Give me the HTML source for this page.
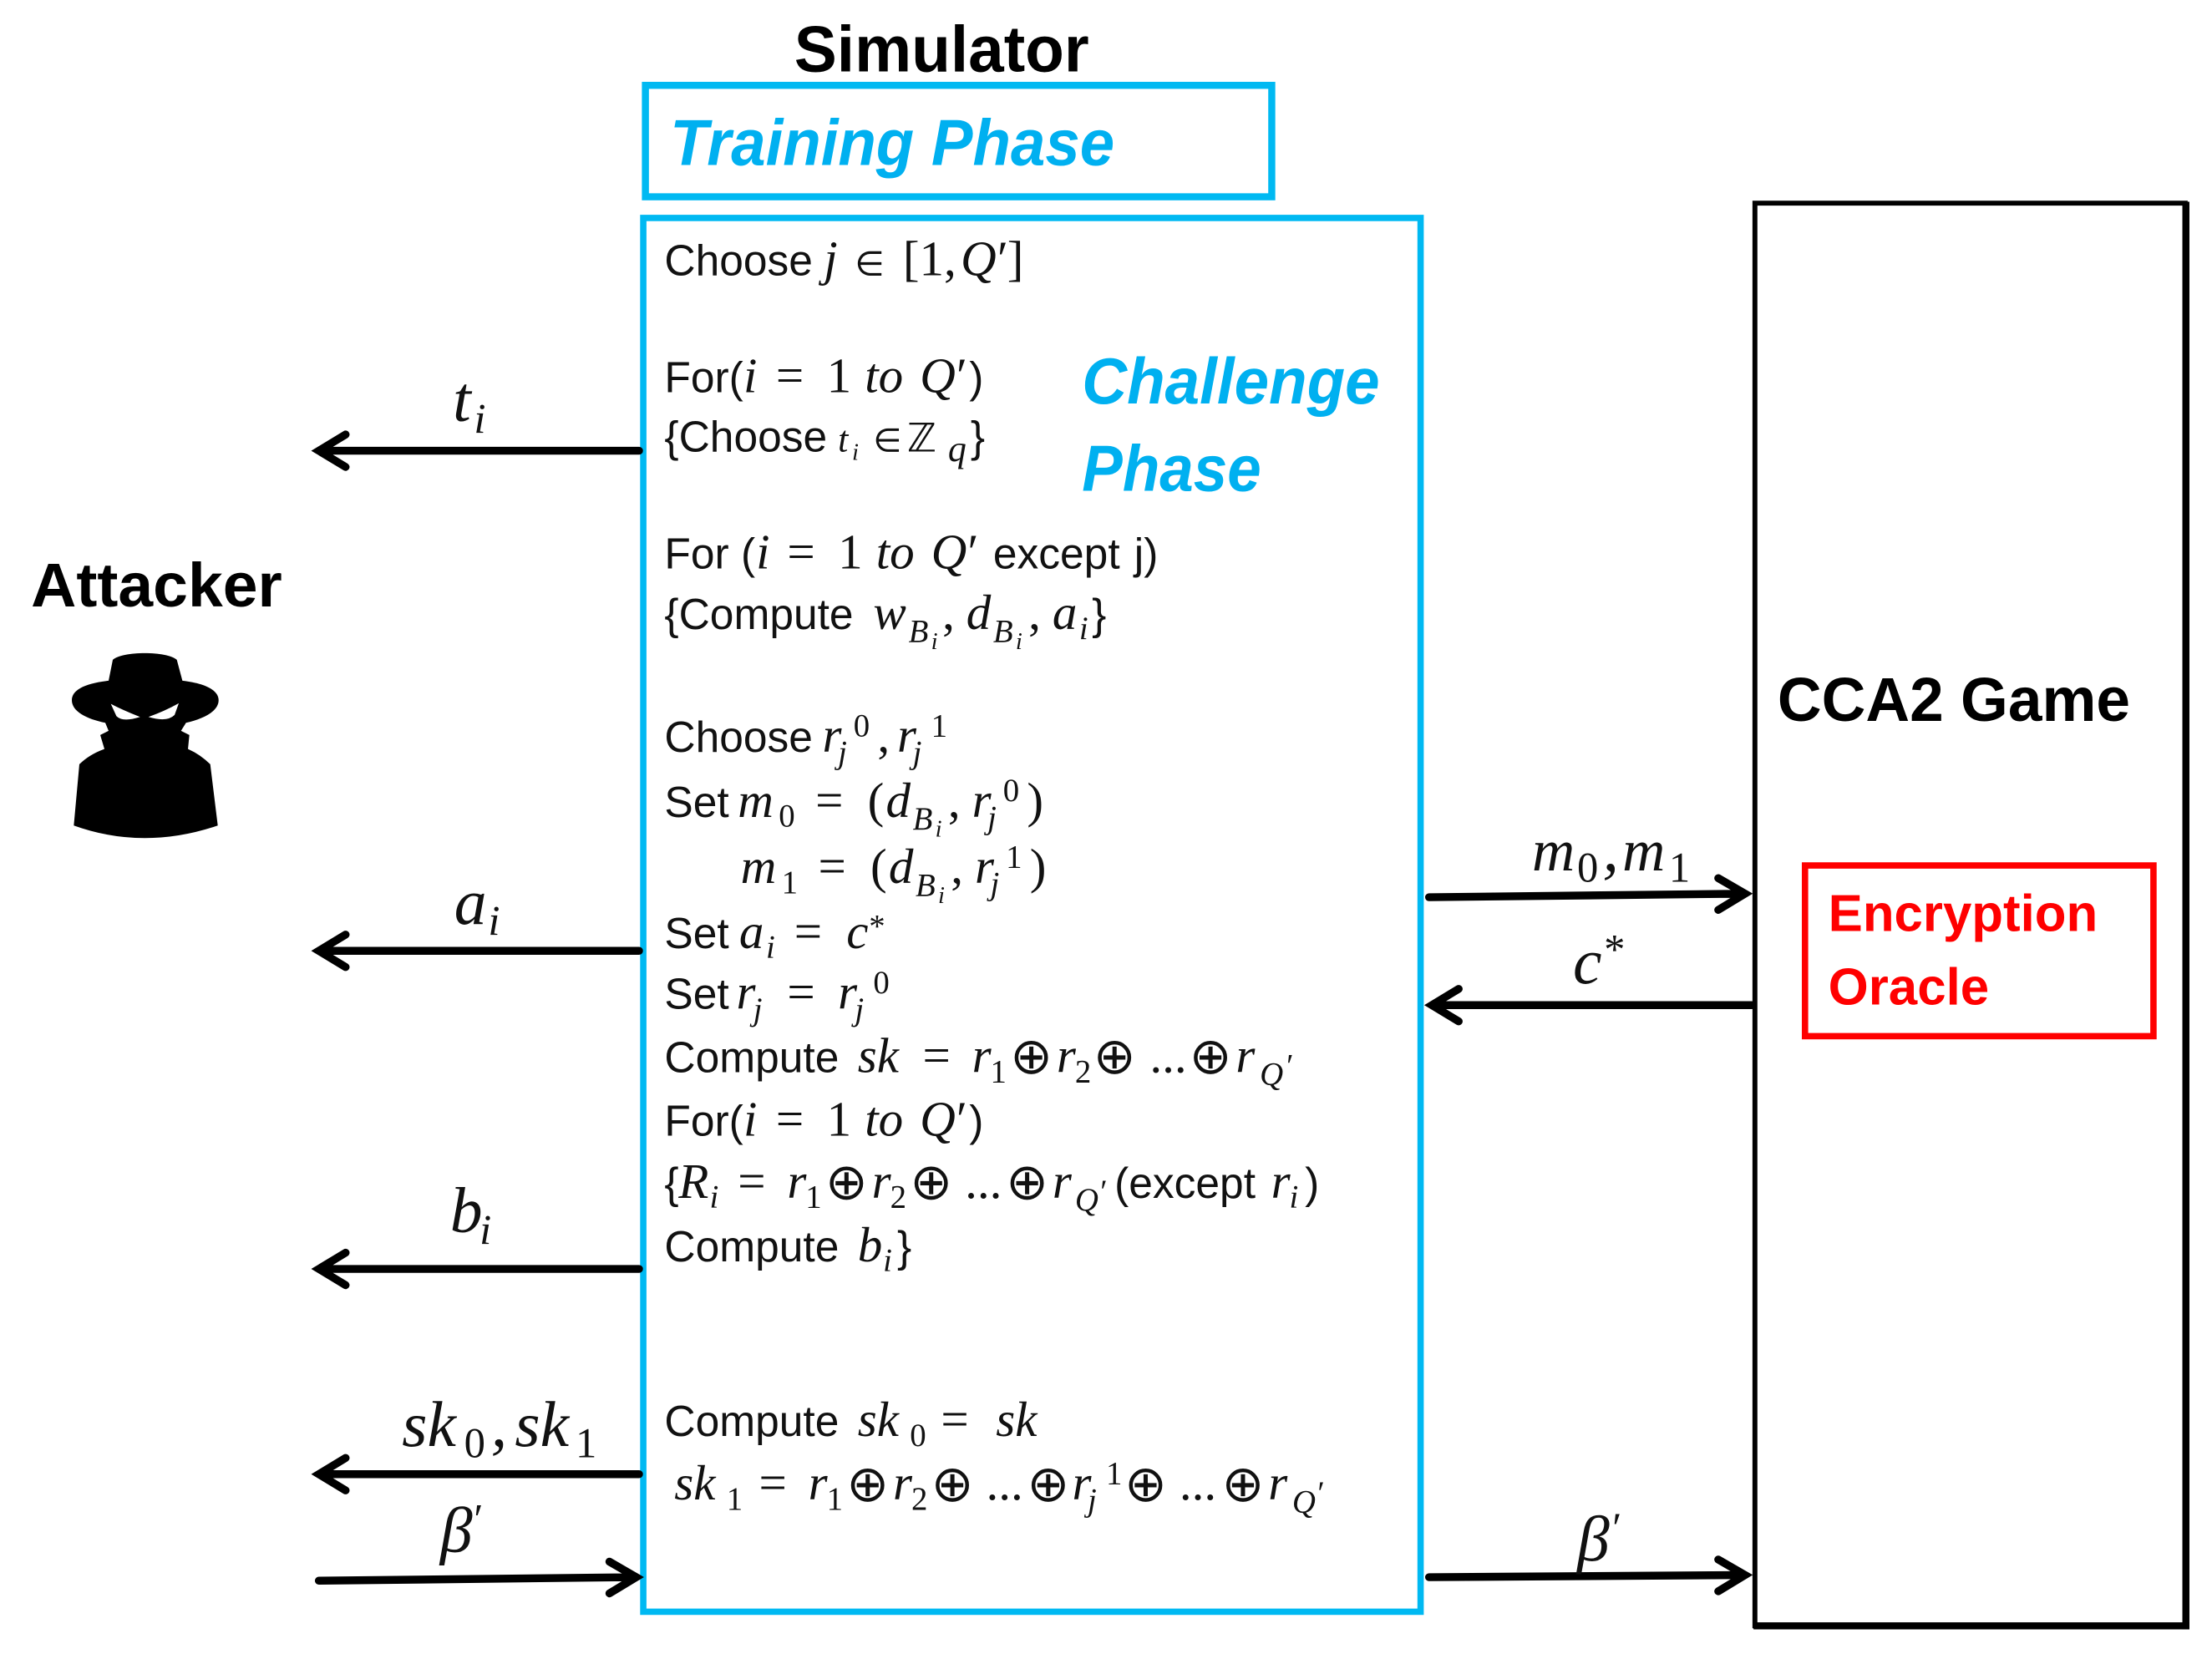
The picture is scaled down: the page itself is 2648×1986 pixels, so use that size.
<!DOCTYPE html>
<html><head><meta charset="utf-8"><style>
html,body{margin:0;padding:0;background:#fff;width:2648px;height:1986px;overflow:hidden}
svg{display:block}
.s{font-family:"Liberation Sans",sans-serif;font-size:30.5px;fill:#111}
.m{font-family:"Liberation Serif",serif;font-style:italic;font-size:35px;fill:#111}
.u{font-family:"Liberation Serif",serif;font-size:35px;fill:#111}
.e{font-family:"DejaVu Sans",sans-serif;font-size:24px;fill:#111}
.x{font-family:"Liberation Serif",serif;font-size:23px;fill:#111}
.xi{font-family:"Liberation Serif",serif;font-style:italic;font-size:23px;fill:#111}
.xx{font-family:"Liberation Serif",serif;font-style:italic;font-size:17px;fill:#111}
.o{font-family:"DejaVu Sans",sans-serif;font-size:36px;fill:#111}
.l{font-family:"Liberation Serif",serif;font-style:italic;font-size:46px;fill:#111}
.ls{font-family:"Liberation Serif",serif;font-size:30px;fill:#111}
.lsi{font-family:"Liberation Serif",serif;font-style:italic;font-size:30px;fill:#111}
.h{font-family:"Liberation Sans",sans-serif;font-weight:bold;fill:#000}
.c{font-family:"Liberation Sans",sans-serif;font-weight:bold;font-style:italic;fill:#00b0f0}
.r{font-family:"Liberation Sans",sans-serif;font-weight:bold;fill:#f00;font-size:37px}
.a{fill:none;stroke:#000;stroke-width:5.6;stroke-linecap:round;stroke-linejoin:miter}
</style></head><body>
<svg xmlns="http://www.w3.org/2000/svg" width="2648" height="1986" viewBox="0 0 1568 1176">
<rect width="1568" height="1176" fill="#fff"/>

<!-- Boxes -->
<rect x="457.5" y="60.5" width="444" height="79" fill="none" stroke="#00b9f2" stroke-width="5"/>
<rect x="456" y="154.5" width="551" height="988" fill="none" stroke="#00b9f2" stroke-width="4.5"/>
<path d="M1244 1152.5V144H1549V1152.5Z" fill="none" stroke="#000" stroke-width="3.5"/>
<rect x="1547" y="143" width="5" height="1012" fill="#000"/>
<rect x="1243" y="1150" width="309" height="5" fill="#000"/>
<rect x="1279.5" y="613.5" width="247" height="121" fill="none" stroke="#f00" stroke-width="4.5"/>

<!-- Headings -->
<text class="h" x="563" y="50.5" font-size="46" textLength="209" lengthAdjust="spacingAndGlyphs">Simulator</text>
<text class="c" x="475" y="117" font-size="46" textLength="315" lengthAdjust="spacingAndGlyphs">Training Phase</text>
<text class="c" x="767" y="286" font-size="46" textLength="211" lengthAdjust="spacingAndGlyphs">Challenge</text>
<text class="c" x="767" y="348" font-size="46" textLength="127" lengthAdjust="spacingAndGlyphs">Phase</text>
<text class="h" x="22" y="430" font-size="44" textLength="178" lengthAdjust="spacingAndGlyphs">Attacker</text>
<text class="h" x="1260" y="511" font-size="44" textLength="250" lengthAdjust="spacingAndGlyphs">CCA2 Game</text>
<text class="r" x="1296" y="660" textLength="191" lengthAdjust="spacingAndGlyphs">Encryption</text>
<text class="r" x="1296" y="712" textLength="114" lengthAdjust="spacingAndGlyphs">Oracle</text>

<!-- Attacker figure -->
<g transform="translate(0,378.9) scale(0.1974)">
<path fill="#000" d="M405,450 C440,418 600,418 635,450 L655,525 C740,535 785,560 785,595 C785,635 730,662 668,676 L650,705 L680,720 L675,770 Q720,790 755,825 L782,1045 Q650,1090 520,1090 Q390,1090 265,1045 L285,825 Q320,790 375,770 L360,720 L390,705 L378,676 C310,662 258,635 258,595 C258,560 300,535 390,525 Z"/>
<path fill="#fff" d="M398,608 Q440,630 503,655 Q440,675 418,652 Z"/>
<path fill="#fff" d="M642,606 Q590,635 533,655 Q600,675 627,648 Z"/>
</g>

<!-- Line 1 -->
<text class="s" x="471" y="195">Choose</text>
<text class="m" x="584" y="195">j</text><text class="e" x="606" y="195">∈</text><text class="u" x="640" y="195">[1,</text><text class="m" x="681" y="195">Q</text><text class="u" x="707" y="195">′</text><text class="u" x="714" y="195">]</text>

<!-- For( -->
<text class="s" x="471" y="278">For(</text>
<text class="m" x="527" y="278">i</text><text class="u" x="550" y="278">=</text><text class="u" x="586" y="278">1</text><text class="m" x="613" y="278">to</text><text class="m" x="652" y="278">Q</text><text class="u" x="678" y="278">′</text><text class="s" x="687" y="278">)</text>

<text class="s" x="471" y="320">{Choose</text>
<text class="xi" x="594" y="320" style="font-size:26px">t</text><text class="xx" x="604" y="326">i</text><text class="x" x="619" y="320">∈</text><text class="u" x="643" y="320" style="font-family:'DejaVu Sans';font-size:28px">ℤ</text><text class="xi" x="672" y="327" style="font-size:26px">q</text><text class="s" x="688" y="320">}</text>

<!-- For (i ... except j) -->
<text class="s" x="471" y="403">For (</text>
<text class="m" x="536" y="403">i</text><text class="u" x="558" y="403">=</text><text class="u" x="594" y="403">1</text><text class="m" x="621" y="403">to</text><text class="m" x="660" y="403">Q</text><text class="u" x="686" y="403">′</text><text class="s" x="704" y="403">except</text><text class="s" x="804" y="403">j)</text>

<text class="s" x="471" y="446">{Compute</text>
<text class="m" x="619" y="446">w</text><text class="xi" x="644" y="455">B</text><text class="xx" x="660" y="460">i</text><text class="u" x="668" y="446">,</text><text class="m" x="685" y="446">d</text><text class="xi" x="704" y="455">B</text><text class="xx" x="720" y="460">i</text><text class="u" x="729" y="446">,</text><text class="m" x="746" y="446">a</text><text class="xi" x="765" y="453">i</text><text class="s" x="774" y="446">}</text>

<!-- Choose r -->
<text class="s" x="471" y="533">Choose</text>
<text class="m" x="583" y="533">r</text><text class="xi" x="594" y="541">j</text><text class="x" x="605" y="522">0</text><text class="u" x="622" y="533">,</text><text class="m" x="636" y="533">r</text><text class="xi" x="647" y="541">j</text><text class="x" x="660" y="522">1</text>

<!-- Set m0 -->
<text class="s" x="471" y="579">Set</text>
<text class="m" x="523" y="579">m</text><text class="x" x="552" y="586">0</text><text class="u" x="578" y="579">=</text><text class="u" x="615" y="579">(</text><text class="m" x="628" y="579">d</text><text class="xi" x="647" y="588">B</text><text class="xx" x="663" y="593">i</text><text class="u" x="672" y="579">,</text><text class="m" x="689" y="579">r</text><text class="xi" x="700" y="587">j</text><text class="x" x="711" y="568">0</text><text class="u" x="728" y="579">)</text>

<!-- m1 -->
<text class="m" x="525" y="626">m</text><text class="x" x="554" y="633">1</text><text class="u" x="580" y="626">=</text><text class="u" x="617" y="626">(</text><text class="m" x="630" y="626">d</text><text class="xi" x="649" y="635">B</text><text class="xx" x="665" y="640">i</text><text class="u" x="674" y="626">,</text><text class="m" x="691" y="626">r</text><text class="xi" x="702" y="634">j</text><text class="x" x="713" y="615">1</text><text class="u" x="730" y="626">)</text>

<!-- Set ai -->
<text class="s" x="471" y="672">Set</text>
<text class="m" x="524" y="672">a</text><text class="xi" x="543" y="679">i</text><text class="u" x="563" y="672">=</text><text class="m" x="600" y="672">c</text><text class="x" x="616" y="664">*</text>

<!-- Set rj -->
<text class="s" x="471" y="715">Set</text>
<text class="m" x="522" y="715">r</text><text class="xi" x="534" y="723">j</text><text class="u" x="558" y="715">=</text><text class="m" x="594" y="715">r</text><text class="xi" x="606" y="723">j</text><text class="x" x="619" y="704">0</text>

<!-- Compute sk -->
<text class="s" x="471" y="760">Compute</text>
<text class="m" x="608" y="760">sk</text><text class="u" x="654" y="760">=</text><text class="m" x="689" y="760">r</text><text class="x" x="702" y="767">1</text><text class="o" x="716" y="761">⊕</text><text class="m" x="749" y="760">r</text><text class="x" x="762" y="767">2</text><text class="o" x="775" y="761">⊕</text><text class="u" x="815" y="760">...</text><text class="o" x="843" y="761">⊕</text><text class="m" x="876" y="760">r</text><text class="xi" x="893" y="769">Q</text><text class="x" x="912" y="763">′</text>

<!-- For( -->
<text class="s" x="471" y="805">For(</text>
<text class="m" x="527" y="805">i</text><text class="u" x="550" y="805">=</text><text class="u" x="586" y="805">1</text><text class="m" x="613" y="805">to</text><text class="m" x="652" y="805">Q</text><text class="u" x="678" y="805">′</text><text class="s" x="687" y="805">)</text>

<!-- {Ri -->
<text class="s" x="471" y="849">{</text>
<text class="m" x="481" y="849">R</text><text class="xi" x="503" y="856">i</text><text class="u" x="523" y="849">=</text><text class="m" x="558" y="849">r</text><text class="x" x="571" y="856">1</text><text class="o" x="585" y="850">⊕</text><text class="m" x="618" y="849">r</text><text class="x" x="631" y="856">2</text><text class="o" x="645" y="850">⊕</text><text class="u" x="684" y="849">...</text><text class="o" x="713" y="850">⊕</text><text class="m" x="746" y="849">r</text><text class="xi" x="762" y="858">Q</text><text class="x" x="780" y="852">′</text><text class="s" x="790" y="849">(except</text><text class="m" x="901" y="849">r</text><text class="xi" x="914" y="856">i</text><text class="s" x="925" y="849">)</text>

<!-- Compute bi -->
<text class="s" x="471" y="894">Compute</text>
<text class="m" x="608" y="894">b</text><text class="xi" x="626" y="901">i</text><text class="s" x="636" y="894">}</text>

<!-- sk0 -->
<text class="s" x="471" y="1018">Compute</text>
<text class="m" x="608" y="1018">sk</text><text class="x" x="645" y="1025">0</text><text class="u" x="667" y="1018">=</text><text class="m" x="706" y="1018">sk</text>

<!-- sk1 -->
<text class="m" x="478" y="1063">sk</text><text class="x" x="515" y="1070">1</text><text class="u" x="538" y="1063">=</text><text class="m" x="573" y="1063">r</text><text class="x" x="586" y="1070">1</text><text class="o" x="600" y="1064">⊕</text><text class="m" x="633" y="1063">r</text><text class="x" x="646" y="1070">2</text><text class="o" x="660" y="1064">⊕</text><text class="u" x="699" y="1063">...</text><text class="o" x="728" y="1064">⊕</text><text class="m" x="760" y="1063">r</text><text class="xi" x="771" y="1071">j</text><text class="x" x="784" y="1052">1</text><text class="o" x="797" y="1064">⊕</text><text class="u" x="836" y="1063">...</text><text class="o" x="866" y="1064">⊕</text><text class="m" x="899" y="1063">r</text><text class="xi" x="916" y="1072">Q</text><text class="x" x="934" y="1066">′</text>

<!-- Left arrows -->
<path class="a" d="M453 319.5H228M245 308L226 319.5L245 331"/>
<path class="a" d="M453 674H228M245 662.5L226 674L245 685.5"/>
<path class="a" d="M453 899.5H228M245 888L226 899.5L245 911"/>
<path class="a" d="M453 1045H228M245 1033.5L226 1045L245 1056.5"/>
<path class="a" d="M226 1120.5L449 1118M432 1107L451 1118L432 1129.5"/>

<!-- Right arrows -->
<path class="a" d="M1013 636L1235 633.5M1218 622.5L1237 633.5L1218 645"/>
<path class="a" d="M1242 712.5H1018M1034 701L1015 712.5L1034 724"/>
<path class="a" d="M1013 1118L1235 1116.5M1218 1105.5L1237 1116.5L1218 1128"/>

<!-- Arrow labels -->
<text class="l" x="321" y="298">t</text><text class="lsi" x="336" y="307">i</text>
<text class="l" x="322" y="655">a</text><text class="lsi" x="346" y="663">i</text>
<text class="l" x="319" y="873">b</text><text class="lsi" x="340" y="882">i</text>
<text class="l" x="285" y="1025">sk</text><text class="ls" x="329" y="1033">0</text><text class="l" x="348" y="1025">,</text><text class="l" x="365" y="1025">sk</text><text class="ls" x="408" y="1033">1</text>
<text class="l" x="312" y="1100">β</text><text class="ls" x="336" y="1087">′</text>
<text class="l" x="1086" y="617" style="font-size:42px">m</text><text class="ls" x="1118" y="625">0</text><text class="l" x="1136" y="617">,</text><text class="l" x="1150" y="617" style="font-size:42px">m</text><text class="ls" x="1183" y="625">1</text>
<text class="l" x="1115" y="697">c</text><text class="ls" x="1137" y="683">*</text>
<text class="l" x="1118" y="1106">β</text><text class="ls" x="1143" y="1093">′</text>
</svg>
</body></html>
